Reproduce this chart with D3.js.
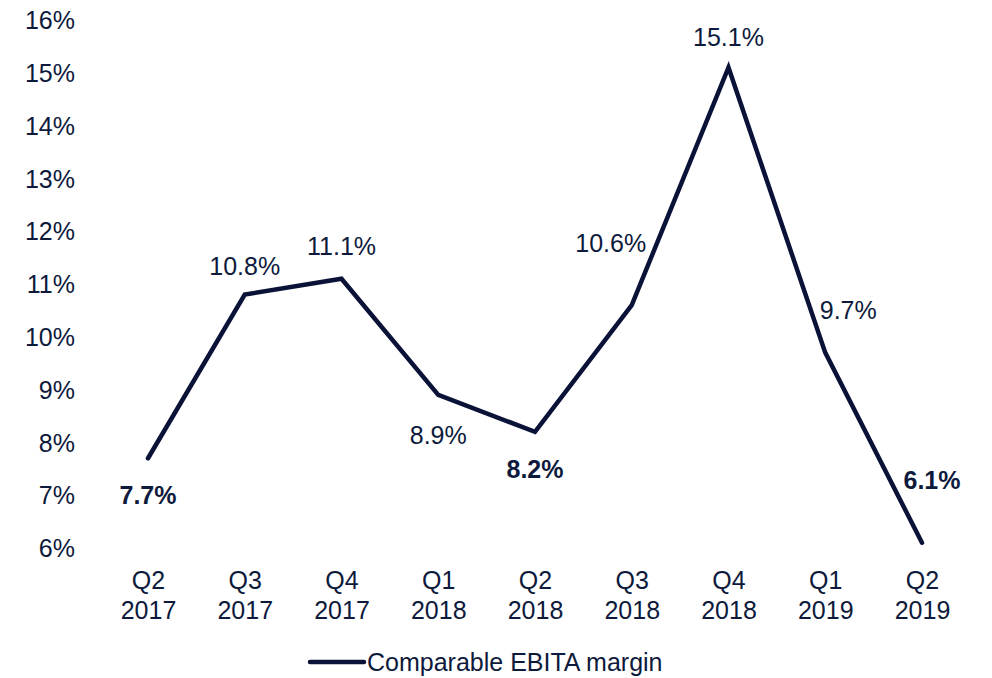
<!DOCTYPE html>
<html><head><meta charset="utf-8">
<script src="https://cdn.jsdelivr.net/npm/d3@7"></script>
<style>
html,body{margin:0;padding:0;background:#fff;}
svg{display:block;font-family:"Liberation Sans",Arial,sans-serif;}
</style></head>
<body><svg id="c" width="992" height="678"></svg>
<script>
const quarters = ["Q2","Q3","Q4","Q1","Q2","Q3","Q4","Q1","Q2"];
const years = ["2017","2017","2017","2018","2018","2018","2018","2019","2019"];
const margin = [7.7,10.8,11.1,8.9,8.2,10.6,15.1,9.7,6.1];
const boldLabel = [true,false,false,false,true,false,false,false,true];
const labelPlace = ["below","above","above","below","below","aboveLeft","above","aboveRight","aboveRight"];
const yTicks = [6,7,8,9,10,11,12,13,14,15,16];
const seriesName = "Comparable EBITA margin";

const color = "#0b1238";
const textColor = "#0d1a3c";
const svg = d3.select("#c");
const cats = quarters.map((q,i)=>q+" "+years[i]);
const x = d3.scalePoint().domain(cats).range([148,922]);
const y = d3.scaleLinear().domain([6,16]).range([548,20]);

// y axis
const yAxis = d3.axisLeft(y).tickValues(yTicks).tickFormat(d=>d+"%").tickSize(0).tickPadding(0);
const gy = svg.append("g").attr("transform","translate(75,0)").call(yAxis);
gy.select(".domain").remove();
gy.selectAll("text").attr("font-size",25).attr("fill",textColor).attr("font-family","Liberation Sans, Arial, sans-serif").attr("dy","0.35em");

// x axis labels
const xAxis = d3.axisBottom(x).tickSize(0).tickFormat(()=> "");
const gx = svg.append("g").attr("transform","translate(0,548)").call(xAxis);
gx.select(".domain").remove();
gx.selectAll(".tick").each(function(d,i){
  const t = d3.select(this).append("text").attr("text-anchor","middle").attr("font-size",25).attr("fill",textColor);
  t.append("tspan").attr("x",0).attr("y",41).text(quarters[i]);
  t.append("tspan").attr("x",0).attr("y",71).text(years[i]);
});

// line
const line = d3.line().x((d,i)=>x(cats[i])).y(d=>y(d));
svg.append("path").datum(margin).attr("d",line).attr("fill","none")
  .attr("stroke",color).attr("stroke-width",4.5).attr("stroke-linejoin","miter").attr("stroke-linecap","round");

// labels
const off = {below:[0,37], above:[0,-30], aboveLeft:[-21,-62], aboveRight:[23,-42]};
svg.append("g").selectAll("text").data(margin).join("text")
  .attr("x",(d,i)=>{let o=off[labelPlace[i]][0]; if(i===8) o=10; return x(cats[i])+o;})
  .attr("y",(d,i)=>{let o=off[labelPlace[i]][1]; if(i===8) o=-62; if(i===3) o=40; if(i===2) o=-32; if(i===1) o=-28; return y(d)+o;})
  .attr("dy","0.35em").attr("text-anchor","middle").attr("font-size",25)
  .attr("font-weight",(d,i)=>boldLabel[i]?"bold":"normal").attr("fill",textColor)
  .text(d=>d.toFixed(1)+"%");

// legend
const lg = svg.append("g");
lg.append("line").attr("x1",310).attr("x2",364).attr("y1",662).attr("y2",662).attr("stroke",color).attr("stroke-width",4.5).attr("stroke-linecap","round");
lg.append("text").attr("x",367).attr("y",662).attr("dy","0.35em").attr("font-size",25).attr("fill",textColor).text(seriesName);
</script></body></html>
